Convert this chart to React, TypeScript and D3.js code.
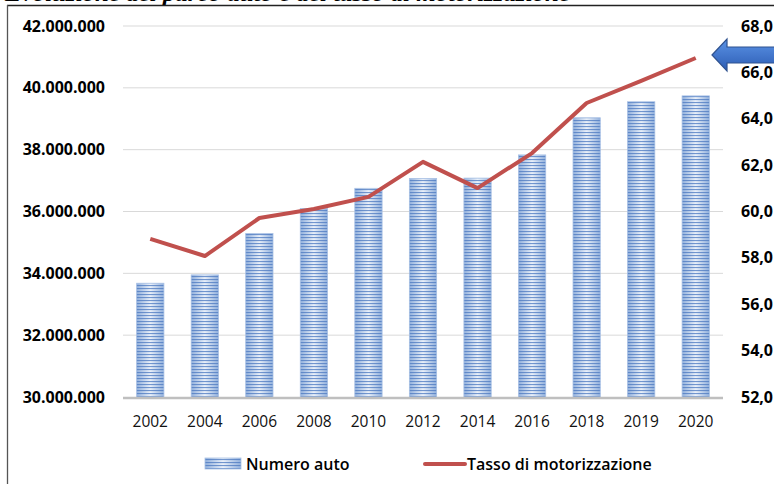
import * as d3 from 'd3';
import React from 'react';

// anni sull'asse x
const years = ['2002', '2004', '2006', '2008', '2010', '2012', '2014', '2016', '2018', '2019', '2020'];
// numero di autovetture circolanti
const numeroAuto = [33680000, 33950000, 35290000, 36100000, 36750000, 37070000, 37080000, 37830000, 39030000, 39550000, 39740000];
// tasso di motorizzazione (auto ogni 100 abitanti)
const tasso = [58.82, 58.08, 59.72, 60.11, 60.63, 62.14, 61.01, 62.52, 64.68, 65.63, 66.62];
const leftTicks = [30000000, 32000000, 34000000, 36000000, 38000000, 40000000, 42000000];
const rightTicks = [52, 54, 56, 58, 60, 62, 64, 66, 68];

const W = 774;
const H = 484;
const plot = { left: 123, right: 723, top: 26, bottom: 397 };

const locale = d3.formatLocale({ decimal: ',', thousands: '.', grouping: [3], currency: ['€', ''] });
const fmtLeft = locale.format(',');
const fmtRight = locale.format('.1f');

const App = () => {
  const x = d3.scaleBand().domain(years).range([plot.left, plot.right]).paddingInner(0.5).paddingOuter(0.25);
  const yL = d3.scaleLinear().domain([30000000, 42000000]).range([plot.bottom, plot.top]);
  const yR = d3.scaleLinear().domain([52, 68]).range([plot.bottom, plot.top]);
  const bw = x.bandwidth();

  const line = d3
    .line<number>()
    .x((d, i) => (x(years[i]) as number) + bw / 2)
    .y((d) => yR(d));

  const font = '"Open Sans", "Noto Sans", sans-serif';

  return (
    <svg width={W} height={H} style={{ position: 'absolute', left: 0, top: 0, background: '#fff' }}>
      <defs>
        <linearGradient id="barGrad" x1="0" x2="1" y1="0" y2="0">
          <stop offset="0%" stopColor="#93b1dd" />
          <stop offset="50%" stopColor="#eaf0f9" />
          <stop offset="100%" stopColor="#93b1dd" />
        </linearGradient>
        <pattern id="stripes" patternUnits="userSpaceOnUse" width="8" height="3">
          <rect x="0" y="0" width="8" height="1.1" fill="#4a78c0" opacity="0.75" />
        </pattern>
        <linearGradient id="arrowGrad" x1="0" x2="0" y1="0" y2="1">
          <stop offset="0%" stopColor="#5b93e6" />
          <stop offset="100%" stopColor="#2c5cb3" />
        </linearGradient>
      </defs>

      {/* titolo tagliato in alto */}
      <text
        x={5}
        y={1}
        fontFamily='"Liberation Serif", serif'
        fontWeight="bold"
        fontStyle="italic"
        fontSize={20}
        textLength={565}
        lengthAdjust="spacingAndGlyphs"
        fill="#000"
      >
        Evoluzione del parco auto e del tasso di motorizzazione
      </text>

      {/* cornice */}
      <line x1={7} x2={W} y1={5.5} y2={5.5} stroke="#222" strokeWidth={1.3} />
      <line x1={7.5} x2={7.5} y1={5} y2={H} stroke="#555" strokeWidth={1.3} />

      {/* griglia */}
      {leftTicks.slice(1).map((t) => (
        <line key={t} x1={plot.left} x2={plot.right} y1={yL(t)} y2={yL(t)} stroke="#d9d9d9" strokeWidth={1} />
      ))}

      {/* barre */}
      {numeroAuto.map((v, i) => (
        <g key={years[i]}>
          <rect x={x(years[i])} y={yL(v)} width={bw} height={yL(30000000) - yL(v)} fill="url(#barGrad)" />
          <rect
            x={x(years[i])}
            y={yL(v)}
            width={bw}
            height={yL(30000000) - yL(v)}
            fill="url(#stripes)"
            stroke="#a8c0e4"
            strokeWidth={0.8}
          />
        </g>
      ))}

      {/* asse x */}
      <line x1={plot.left} x2={plot.right} y1={plot.bottom + 1} y2={plot.bottom + 1} stroke="#bfbfbf" strokeWidth={2.5} />

      {/* linea tasso */}
      <path d={line(tasso) || ''} fill="none" stroke="#c0504d" strokeWidth={4} strokeLinejoin="round" />

      {/* etichette asse sinistro */}
      {leftTicks.map((t) => (
        <text key={t} x={105} y={yL(t)} dy="0.35em" textAnchor="end" fontFamily={font} fontWeight="bold" fontSize={16} fill="#000">
          {fmtLeft(t)}
        </text>
      ))}

      {/* etichette asse destro */}
      {rightTicks.map((t) => (
        <text key={t} x={741} y={yR(t)} dy="0.35em" textAnchor="start" fontFamily={font} fontWeight="bold" fontSize={16} fill="#000">
          {fmtRight(t)}
        </text>
      ))}

      {/* anni */}
      {years.map((yr) => (
        <text key={yr} x={(x(yr) as number) + bw / 2} y={422} dy="0.35em" textAnchor="middle" fontFamily={font} fontSize={15.5} fill="#111">
          {yr}
        </text>
      ))}

      {/* freccia */}
      <polygon
        points="712,55 727,39 727,47 780,47 780,63 727,63 727,71"
        fill="url(#arrowGrad)"
        stroke="#2f528f"
        strokeWidth={1.2}
      />

      {/* legenda */}
      <rect x={205} y={458} width={36} height={11} fill="url(#barGrad)" />
      <rect x={205} y={458} width={36} height={11} fill="url(#stripes)" stroke="#a8c0e4" strokeWidth={0.8} />
      <text x={246} y={464} dy="0.35em" fontFamily={font} fontWeight={600} fontSize={16} fill="#000">
        Numero auto
      </text>
      <line x1={425} x2={465} y1={464} y2={464} stroke="#c0504d" strokeWidth={4} strokeLinecap="round" />
      <text x={467} y={464} dy="0.35em" fontFamily={font} fontWeight={600} fontSize={16} fill="#000">
        Tasso di motorizzazione
      </text>
    </svg>
  );
};

export default App;
